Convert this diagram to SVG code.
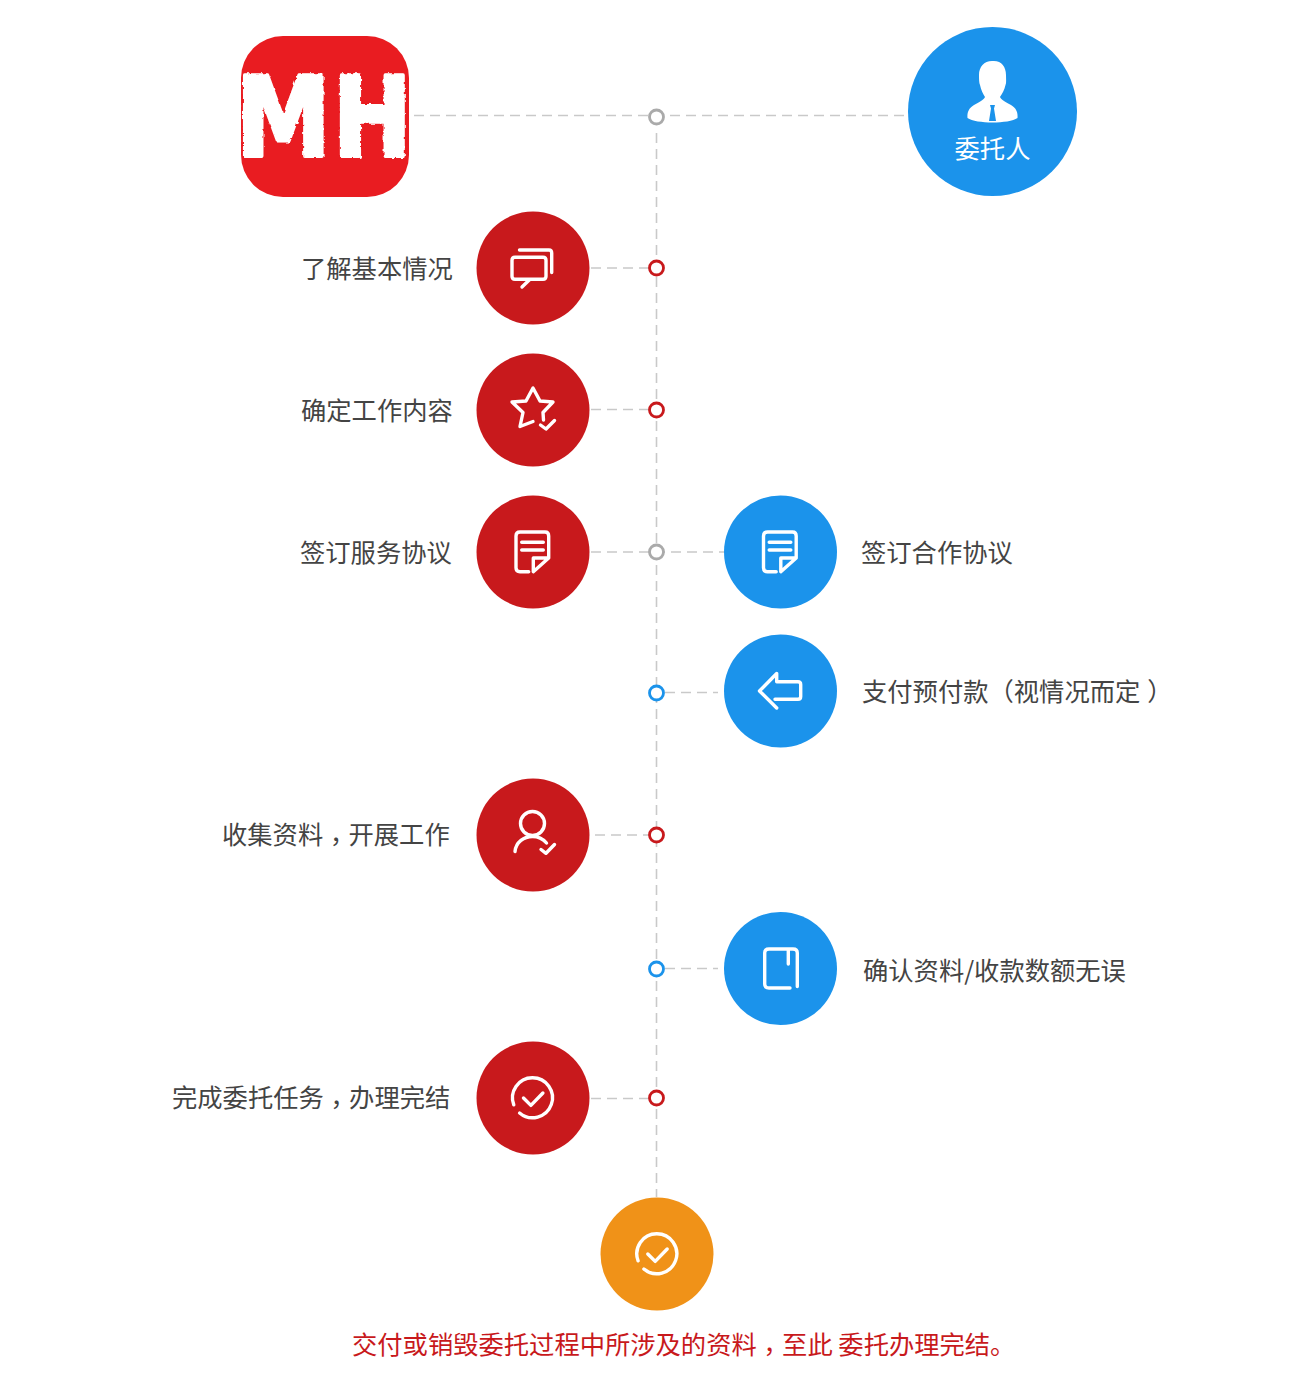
<svg xmlns="http://www.w3.org/2000/svg" xmlns:xlink="http://www.w3.org/1999/xlink" width="1300" height="1381" viewBox="0 0 1300 1381">
<style>
.label{font-family:"Noto Sans CJK SC","Noto Sans",sans-serif;font-size:25.3px;fill:#444}
.tc{font-family:"Noto Sans CJK TC","Noto Sans",sans-serif}
.red{fill:#c8191c}.blue{fill:#1b93eb}.orange{fill:#f09218}
.ic{fill:none;stroke:#fff;stroke-width:3.4;stroke-linecap:round;stroke-linejoin:round}
.dash{fill:none;stroke:#c9c9c9;stroke-width:1.6;stroke-dasharray:10 6}
.dot{fill:#fff;stroke-width:2.8}
.logo{font-family:"DejaVu Sans",sans-serif;font-weight:bold;fill:#fff;stroke:#fff;stroke-width:4;stroke-linejoin:round}
</style>
<defs>
<g id="doc" class="ic"><path d="M-4.3 19.7H-13Q-17 19.7-17 15.7V-16Q-17-20-13-20H12Q15.7-20 15.7-16V6L.3 19.7V6H15.7"/><path d="M-11.3-9.7H10.3M-11.3-2H10.3"/></g>
<g id="chk" class="ic"><path d="M-18.7 7.100A20 20 0 1 1-12.900 15.300"/><path d="M-9 .3L-1.6 7.700L10.400-4.700"/></g>
<filter id="rough" x="-5%" y="-5%" width="110%" height="110%"><feTurbulence type="fractalNoise" baseFrequency="0.22" numOctaves="2" seed="4"/><feDisplacementMap in="SourceGraphic" scale="3.500"/></filter>
</defs>
<g id="connectors">
<path class="dash" d="M656.500 133V1197"/>
<path class="dash" d="M414 115.500H908"/>
<path class="dash" d="M591 268H650M591 409.500H650M591 552H724M665 692.500H718M595 835H650M665 968.500H718M591 1098.500H650"/>
</g>
<g id="dots">
<circle class="dot" cx="656.500" cy="117" r="7" stroke="#aaa"/>
<circle class="dot" cx="656.500" cy="268" r="7" stroke="#c8191c"/>
<circle class="dot" cx="656.500" cy="410" r="7" stroke="#c8191c"/>
<circle class="dot" cx="656.500" cy="552" r="7" stroke="#aaa"/>
<circle class="dot" cx="656.500" cy="693" r="7" stroke="#1b93eb"/>
<circle class="dot" cx="656.500" cy="835" r="7" stroke="#c8191c"/>
<circle class="dot" cx="656.500" cy="969" r="7" stroke="#1b93eb"/>
<circle class="dot" cx="656.500" cy="1098" r="7" stroke="#c8191c"/>
</g>
<g id="logo">
<rect x="241" y="36" width="168" height="161" rx="42" fill="#e91c21"/>
<g filter="url(#rough)">
<text class="logo" transform="translate(236 156) scale(0.88 1.02)" font-size="108">M</text>
<text class="logo" transform="translate(333 156) scale(0.87 1.02)" font-size="108">H</text>
</g>
</g>
<g id="client">
<circle class="blue" cx="992.500" cy="111.500" r="84.500"/>
<path fill="#fff" d="M992 61C1001 60 1006 66 1006 75C1006 79 1006.500 83 1005.500 85C1004.500 90 1002 94 1000 97C1001 100 1006 102 1011 105C1016 108 1018 112 1017.500 118C1009 124 976 124 967.500 118C967 112 969 108 974 105C979 102 984 100 985 97C983 94 981 90 980 85C979 83 979 79 979 75C979 67 984 61 992 61Z"/>
<path class="blue" d="M990 105H995L994 108.500L996 121H989L991 108.500Z"/>
<text class="label" x="992.500" y="158" text-anchor="middle" style="fill:#fff">委托人</text>
</g>
<g id="n1">
<circle class="red" cx="533" cy="268" r="56.500"/>
<g class="ic"><path d="M530 279.300H515Q512 279.300 512 276.300V260.300Q512 257.300 515 257.300H543Q546 257.300 546 260.300V276.300Q546 279.300 543 279.300H530L522 287"/><path d="M519.500 250H549Q551.700 250 551.700 253V272.500"/></g>
<text class="label" x="301" y="278">了解基本情况</text>
</g>
<g id="n2">
<circle class="red" cx="533" cy="410" r="56.500"/>
<g class="ic"><path d="M543.500 420L543 412.500L553 402L540 401L533 388L526 401L512 402L523 412.500L520 426.500L533 421.500"/><path d="M540.500 425L546 429L554.500 420.500"/></g>
<text class="label" x="301" y="420">确定工作内容</text>
</g>
<g id="n3">
<circle class="red" cx="533" cy="552" r="56.500"/>
<use xlink:href="#doc" href="#doc" x="533" y="552"/>
<text class="label" x="300" y="562">签订服务协议</text>
</g>
<g id="n4">
<circle class="blue" cx="780.500" cy="552" r="56.500"/>
<use xlink:href="#doc" href="#doc" x="780.500" y="552"/>
<text class="label" x="861" y="562">签订合作协议</text>
</g>
<g id="n5">
<circle class="blue" cx="780.500" cy="691" r="56.500"/>
<path class="ic" d="M776.700 708L759.500 691L776.700 673.500V681.700H798Q800.700 681.700 800.700 684.500V696.500Q800.700 699.300 798 699.300H775"/>
<text class="label" x="862" y="701">支付预付款（视情况而定<tspan dx="7">）</tspan></text>
</g>
<g id="n6">
<circle class="red" cx="533" cy="835" r="56.500"/>
<g class="ic"><circle cx="532.500" cy="823.500" r="12"/><path d="M515 851.500C516 842 524 836.500 532.500 836.500C538 836.500 543 839 546.500 843"/><path d="M541 849.500L546 853.300L554.500 844.500"/></g>
<text class="label" x="222" y="844">收集资料<tspan class="tc" dy="7">，</tspan><tspan dy="-7">开展工作</tspan></text>
</g>
<g id="n7">
<circle class="blue" cx="780.500" cy="968.500" r="56.500"/>
<path class="ic" d="M790 988H769Q764.700 988 764.700 984V953Q764.700 949 769 949H793Q797.300 949 797.300 953V986.500M788.300 950V964"/>
<text class="label" x="863" y="980">确认资料/收款数额无误</text>
</g>
<g id="n8">
<circle class="red" cx="533" cy="1098" r="56.500"/>
<use xlink:href="#chk" href="#chk" x="532.500" y="1097.700"/>
<text class="label" x="172" y="1107">完成委托任务<tspan class="tc" dy="7">，</tspan><tspan dy="-7">办理完结</tspan></text>
</g>
<g id="n9">
<circle class="orange" cx="657" cy="1254" r="56.500"/>
<use xlink:href="#chk" href="#chk" x="656.800" y="1253.700"/>
<text class="label" x="352" y="1354" style="fill:#c8191c">交付或销毁委托过程中所涉及的资料<tspan class="tc" dy="7">，</tspan><tspan dy="-7">至此 委托办理完结。</tspan></text>
</g>
</svg>
